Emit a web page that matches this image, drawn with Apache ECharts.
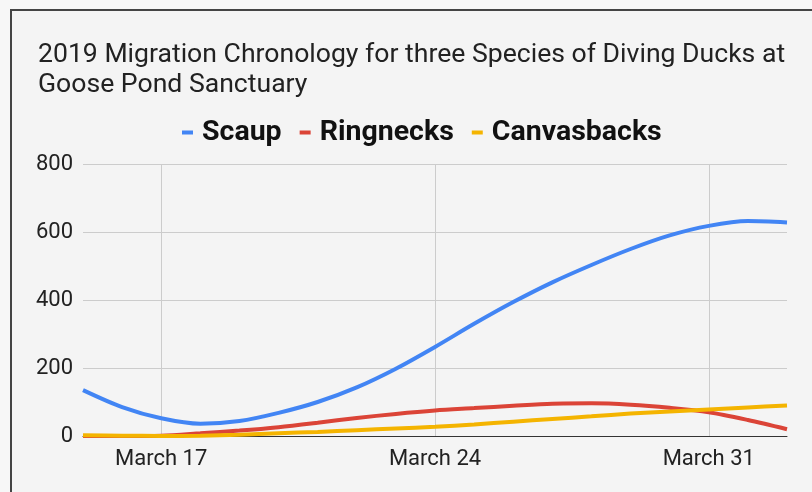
<!DOCTYPE html>
<html>
<head>
<meta charset="utf-8">
<script src="https://cdn.jsdelivr.net/npm/echarts@6/dist/echarts.min.js"></script>
<style>
  html, body { margin: 0; padding: 0; width: 812px; height: 492px; overflow: hidden; background: #f7f7f7; }
  #frame { position: absolute; left: 10px; top: 9px; width: 900px; height: 600px; border: 2px solid #444; background: #f4f4f4; }
  #chart { position: absolute; left: 0; top: 0; width: 812px; height: 492px; }
</style>
</head>
<body>
<div id="frame"></div>
<div id="chart"></div>
<script>
const titleText = '2019 Migration Chronology for three Species of Diving Ducks at\nGoose Pond Sanctuary';
const dates = ['2019-03-15','2019-03-16','2019-03-17','2019-03-18','2019-03-19','2019-03-20','2019-03-21','2019-03-22','2019-03-23','2019-03-24','2019-03-25','2019-03-26','2019-03-27','2019-03-28','2019-03-29','2019-03-30','2019-03-31','2019-04-01','2019-04-02'];
const scaup =       [135, 85, 52, 36, 44, 68, 100, 143, 198, 262, 330, 394, 452, 503, 550, 590, 618, 632, 628];
const ringnecks =   [0, 0, 1, 8, 16, 26, 39, 53, 65, 75, 82, 89, 95, 96, 92, 83, 70, 47, 20];
const canvasbacks = [2, 1, 0, 1, 4, 8, 12, 17, 22, 27, 34, 42, 50, 58, 66, 72, 78, 84, 90];
const xTickDates = ['2019-03-17', '2019-03-24', '2019-03-31'];
const xTickLabels = ['March 17', 'March 24', 'March 31'];
const yTicks = [0, 200, 400, 600, 800];

// day number counted from 1 March 2019 (1 March = 1, 1 April = 32)
function dayNum(s) {
  const p = s.split('-').map(Number);
  return Math.round((Date.UTC(p[0], p[1] - 1, p[2]) - Date.UTC(2019, 2, 1)) / 86400000) + 1;
}
const xTickValues = xTickDates.map(dayNum);
function pairs(vals) { return dates.map((d, i) => [dayNum(d), vals[i]]); }

const chart = echarts.init(document.getElementById('chart'), null, { renderer: 'canvas' });
const font = 'Roboto, "Noto Sans", sans-serif';
chart.setOption({
  animation: false,
  backgroundColor: 'transparent',
  title: {
    text: titleText,
    left: 38, top: 40, padding: 0,
    textStyle: { fontFamily: font, fontSize: 26.6, fontWeight: 'normal', color: '#222', lineHeight: 30 }
  },
  legend: {
    left: 182, top: 118, padding: 0,
    icon: 'rect', itemWidth: 11, itemHeight: 4, itemGap: 18,
    textStyle: { fontFamily: font, fontSize: 28.5, fontWeight: 'bold', color: '#111', padding: [0, 0, 0, 4] },
    data: ['Scaup', 'Ringnecks', 'Canvasbacks']
  },
  grid: { left: 83, right: 25, top: 164, bottom: 56, containLabel: false },
  xAxis: {
    type: 'value',
    min: dayNum(dates[0]), max: dayNum(dates[dates.length - 1]),
    axisLine: { show: true, onZero: false, lineStyle: { color: '#333', width: 1 } },
    axisTick: { show: false, customValues: xTickValues },
    axisLabel: {
      customValues: xTickValues,
      fontFamily: font, fontSize: 22, color: '#222', margin: 12,
      formatter: function (v) { const i = xTickValues.indexOf(v); return i >= 0 ? xTickLabels[i] : ''; }
    },
    splitLine: { show: true, lineStyle: { color: '#ccc', width: 1 } }
  },
  yAxis: {
    type: 'value',
    min: yTicks[0], max: yTicks[yTicks.length - 1], interval: 200,
    axisLine: { show: false }, axisTick: { show: false },
    axisLabel: { fontFamily: font, fontSize: 22, color: '#222', margin: 10 },
    splitLine: { show: true, lineStyle: { color: '#ccc', width: 1 } }
  },
  series: [
    { name: 'Scaup', type: 'line', data: pairs(scaup), smooth: 0.3, showSymbol: false, symbol: 'none', lineStyle: { width: 4, color: '#4285F4' }, itemStyle: { color: '#4285F4' } },
    { name: 'Ringnecks', type: 'line', data: pairs(ringnecks), smooth: 0.3, showSymbol: false, symbol: 'none', lineStyle: { width: 4, color: '#DB4437' }, itemStyle: { color: '#DB4437' } },
    { name: 'Canvasbacks', type: 'line', data: pairs(canvasbacks), smooth: 0.3, showSymbol: false, symbol: 'none', lineStyle: { width: 4, color: '#F4B400' }, itemStyle: { color: '#F4B400' } }
  ]
});
</script>
</body>
</html>
